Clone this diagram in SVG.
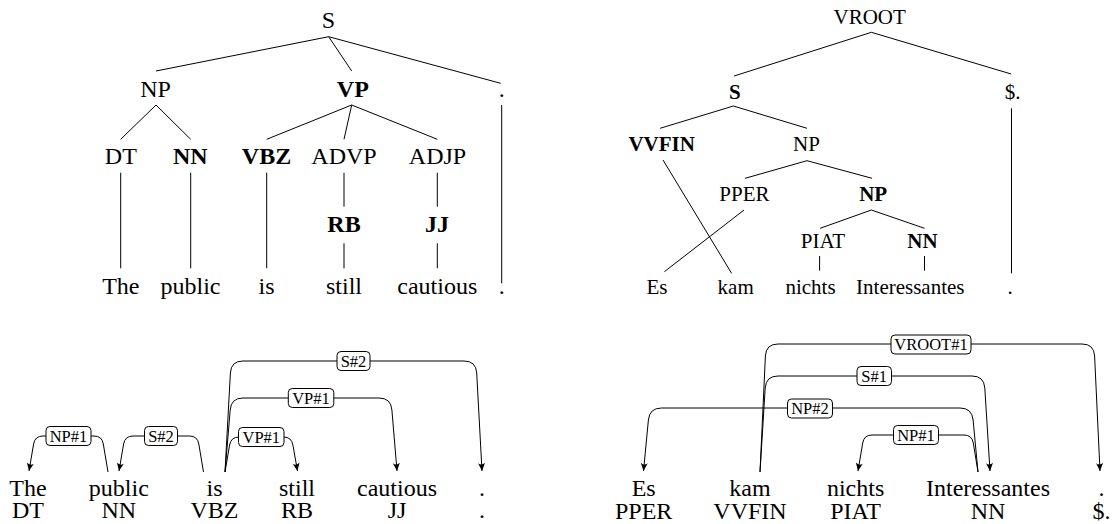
<svg xmlns="http://www.w3.org/2000/svg" width="1112" height="524" viewBox="0 0 1112 524">
<style>
.t{font-family:"Liberation Serif","Times New Roman",serif;text-anchor:middle;fill:#000}
.s24{font-size:24px}
.s21{font-size:21px}
.b{font-weight:bold}
.ln{stroke:#000;stroke-width:1;fill:none}
.arc{stroke:#000;stroke-width:1;fill:none;marker-end:url(#arr)}
.lbl rect{fill:#fff;stroke:#000;stroke-width:1}
.lbl text{font-family:"Liberation Serif","Times New Roman",serif;font-size:16.5px;text-anchor:middle;fill:#000}
</style>
<defs>
<marker id="arr" viewBox="-9 -5 10 10" refX="0" refY="0" markerWidth="10" markerHeight="10" markerUnits="userSpaceOnUse" orient="auto">
<path d="M0,0 L-8,-3.5 Q-5,0 -8,3.5 Z" fill="#000"/>
</marker>
</defs>
<rect width="1112" height="524" fill="#fff"/>

<!-- Left constituency tree -->
<g id="left-tree-edges">
<line class="ln" x1="328.7" y1="36.7" x2="156" y2="71"/>
<line class="ln" x1="328.7" y1="36.7" x2="351.7" y2="71"/>
<line class="ln" x1="328.7" y1="36.7" x2="500.7" y2="83.3"/>
<line class="ln" x1="156" y1="105" x2="120.7" y2="139.3"/>
<line class="ln" x1="156" y1="105" x2="190.7" y2="139.3"/>
<line class="ln" x1="351.7" y1="105" x2="266.7" y2="139.3"/>
<line class="ln" x1="351.7" y1="105" x2="344" y2="139.3"/>
<line class="ln" x1="351.7" y1="105" x2="437.3" y2="139.3"/>
<line class="ln" x1="120.7" y1="172.7" x2="120.7" y2="268.3"/>
<line class="ln" x1="190.7" y1="172.7" x2="190.7" y2="268.3"/>
<line class="ln" x1="266.7" y1="172.7" x2="266.7" y2="268.3"/>
<line class="ln" x1="344" y1="172.7" x2="344" y2="206.7"/>
<line class="ln" x1="344" y1="243.3" x2="344" y2="268.3"/>
<line class="ln" x1="437.3" y1="172.7" x2="437.3" y2="206.7"/>
<line class="ln" x1="437.3" y1="243.3" x2="437.3" y2="268.3"/>
<line class="ln" x1="501.7" y1="105" x2="501.7" y2="283.3"/>
</g>
<g id="lt-S"><text class="t s24" x="328.5" y="28">S</text></g>
<g id="lt-NP"><text class="t s24" x="155.5" y="96.7">NP</text></g>
<g id="lt-VP"><text class="t s24 b" x="352.8" y="96.7">VP</text></g>
<g id="lt-punct"><text class="t s24" x="501.7" y="96.7">.</text></g>
<g id="lt-DT"><text class="t s24" x="120.8" y="164.3">DT</text></g>
<g id="lt-NN"><text class="t s24 b" x="190.3" y="164.3">NN</text></g>
<g id="lt-VBZ"><text class="t s24 b" x="266.5" y="164.3">VBZ</text></g>
<g id="lt-ADVP"><text class="t s24" x="344" y="164.3">ADVP</text></g>
<g id="lt-ADJP"><text class="t s24" x="437.5" y="164.3">ADJP</text></g>
<g id="lt-RB"><text class="t s24 b" x="344" y="231.7">RB</text></g>
<g id="lt-JJ"><text class="t s24 b" x="437" y="231.7">JJ</text></g>
<g id="lt-w1"><text class="t s24" x="120.8" y="294.3">The</text></g>
<g id="lt-w2"><text class="t s24" x="190.5" y="294.3">public</text></g>
<g id="lt-w3"><text class="t s24" x="266.5" y="294.3">is</text></g>
<g id="lt-w4"><text class="t s24" x="344" y="294.3">still</text></g>
<g id="lt-w5"><text class="t s24" x="437.3" y="294.3">cautious</text></g>
<g id="lt-w6"><text class="t s24" x="501.7" y="294.3">.</text></g>

<!-- Right constituency tree -->
<g id="right-tree-edges">
<line class="ln" x1="871.4" y1="32.3" x2="734.1" y2="76"/>
<line class="ln" x1="871.4" y1="32.3" x2="1011.2" y2="74"/>
<line class="ln" x1="733.4" y1="106" x2="660.1" y2="128.3"/>
<line class="ln" x1="733.4" y1="106" x2="807" y2="128.3"/>
<line class="ln" x1="807" y1="160.7" x2="745.1" y2="178.3"/>
<line class="ln" x1="807" y1="160.7" x2="872.1" y2="178.3"/>
<line class="ln" x1="871.4" y1="210" x2="820.1" y2="228.3"/>
<line class="ln" x1="871.4" y1="210" x2="924.5" y2="228.3"/>
<line class="ln" x1="819.6" y1="256" x2="819.6" y2="270.7"/>
<line class="ln" x1="924.5" y1="256" x2="924.5" y2="270.7"/>
<line class="ln" x1="663" y1="160" x2="731.6" y2="273.3"/>
<line class="ln" x1="744" y1="210" x2="664.4" y2="271.7"/>
<line class="ln" x1="1011.5" y1="108.3" x2="1011.5" y2="273.3"/>
</g>
<g id="rt-VROOT"><text class="t s21" x="869.7" y="23.5">VROOT</text></g>
<g id="rt-S"><text class="t s21 b" x="734.8" y="99">S</text></g>
<g id="rt-punct"><text class="t s21" x="1012.6" y="99">$.</text></g>
<g id="rt-VVFIN"><text class="t s21 b" x="661.7" y="150.7">VVFIN</text></g>
<g id="rt-NP1"><text class="t s21" x="806.4" y="150.7">NP</text></g>
<g id="rt-PPER"><text class="t s21" x="744.4" y="200.7">PPER</text></g>
<g id="rt-NP2"><text class="t s21 b" x="873.2" y="200.7">NP</text></g>
<g id="rt-PIAT"><text class="t s21" x="822.9" y="248.3">PIAT</text></g>
<g id="rt-NN"><text class="t s21 b" x="922.4" y="248.3">NN</text></g>
<g id="rt-w1"><text class="t s21" x="657" y="294">Es</text></g>
<g id="rt-w2"><text class="t s21" x="735.7" y="294">kam</text></g>
<g id="rt-w3"><text class="t s21" x="810.5" y="294">nichts</text></g>
<g id="rt-w4"><text class="t s21" x="910.3" y="294">Interessantes</text></g>
<g id="rt-w5"><text class="t s21" x="1010.1" y="294">.</text></g>

<!-- Left dependency words -->
<g id="ld-1"><text class="t s24" x="28" y="496">The</text><text class="t s24" x="28" y="518">DT</text></g>
<g id="ld-2"><text class="t s24" x="118.8" y="496">public</text><text class="t s24" x="118.8" y="518">NN</text></g>
<g id="ld-3"><text class="t s24" x="214.5" y="496">is</text><text class="t s24" x="214.5" y="518">VBZ</text></g>
<g id="ld-4"><text class="t s24" x="297" y="496">still</text><text class="t s24" x="297" y="518">RB</text></g>
<g id="ld-5"><text class="t s24" x="397" y="496">cautious</text><text class="t s24" x="397" y="518">JJ</text></g>
<g id="ld-6"><text class="t s24" x="482" y="496">.</text><text class="t s24" x="482" y="518">.</text></g>

<!-- Right dependency words -->
<g id="rd-1"><text class="t s24" x="643.7" y="496">Es</text><text class="t s24" x="643.7" y="519">PPER</text></g>
<g id="rd-2"><text class="t s24" x="750" y="496">kam</text><text class="t s24" x="750" y="519">VVFIN</text></g>
<g id="rd-3"><text class="t s24" x="855.6" y="496">nichts</text><text class="t s24" x="855.6" y="519">PIAT</text></g>
<g id="rd-4"><text class="t s24" x="988" y="496">Interessantes</text><text class="t s24" x="988" y="519">NN</text></g>
<g id="rd-5"><text class="t s24" x="1101.5" y="496">.</text><text class="t s24" x="1101.5" y="519">$.</text></g>

<!-- Dependency connectors -->
<g id="connectors">
<g id="e-l-np1" class="lbl">
<path class="arc" d="M108,472 L103.3,444 Q102,436 94,436 L43,436 Q35,436 33.6,444 L29,471"/>
<rect x="46" y="426.5" width="45" height="19" rx="4"/><text x="68.5" y="441.5">NP#1</text>
</g>
<g id="e-l-s2a" class="lbl">
<path class="arc" d="M203.5,472 L198.8,444 Q197.5,436 189.5,436 L133,436 Q125,436 123.6,444 L119,471"/>
<rect x="144.5" y="426.5" width="33" height="19" rx="4"/><text x="161" y="441.5">S#2</text>
</g>
<g id="e-l-vp1a" class="lbl">
<path class="arc" d="M225,472 L229.6,445 Q231,437 239,437 L283.5,437 Q291.5,437 292.9,445 L297.5,471"/>
<rect x="238.5" y="427.5" width="45.5" height="19" rx="4"/><text x="261.3" y="442.5">VP#1</text>
</g>
<g id="e-l-vp1b" class="lbl">
<path class="arc" d="M225,472 L230.2,410 Q231,398 243,398 L379,398 Q391,398 391.9,410 L397,471"/>
<rect x="288.3" y="388.5" width="45.5" height="19" rx="4"/><text x="311" y="403.5">VP#1</text>
</g>
<g id="e-l-s2b" class="lbl">
<path class="arc" d="M225,472 L230.4,373 Q231,361 243,361 L464,361 Q476,361 476.7,373 L482,471"/>
<rect x="337" y="351.5" width="33" height="19" rx="4"/><text x="353.5" y="366.5">S#2</text>
</g>
<g id="e-r-vroot1" class="lbl">
<path class="arc" d="M760,472 L765.4,356 Q766,344 778,344 L1082,344 Q1094,344 1094.6,356 L1100,471"/>
<rect x="891" y="335" width="80" height="19" rx="4"/><text x="931" y="350">VROOT#1</text>
</g>
<g id="e-r-s1" class="lbl">
<path class="arc" d="M760,472 L765.2,388 Q766,376 778,376 L972,376 Q984,376 984.8,388 L990,471"/>
<rect x="857" y="366.5" width="34.5" height="19" rx="4"/><text x="874.2" y="381.5">S#1</text>
</g>
<g id="e-r-np2" class="lbl">
<path class="arc" d="M978,472 L973.1,420 Q972,408 960,408 L661.5,408 Q649.5,408 648.4,420 L643.5,471"/>
<rect x="787.5" y="399" width="45" height="19" rx="4"/><text x="810" y="414">NP#2</text>
</g>
<g id="e-r-np1" class="lbl">
<path class="arc" d="M978,472 L973.3,443 Q972,435 964,435 L872,435 Q864,435 862.7,443 L858,471"/>
<rect x="893.5" y="425.5" width="45" height="19" rx="4"/><text x="916" y="440.5">NP#1</text>
</g>
</g>
</svg>
